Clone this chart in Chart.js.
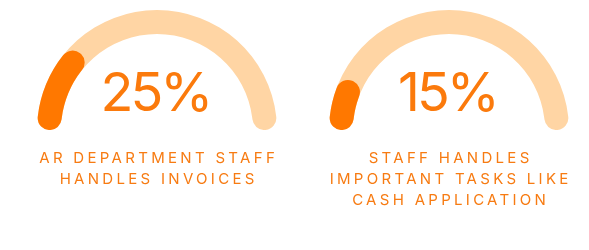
<!DOCTYPE html>
<html lang="en">
<head>
    <meta charset="UTF-8">
    <script src="https://cdn.jsdelivr.net/npm/chart.js"></script>
    <title>AR staff gauges</title>
    <style>
        body {
            margin: 0;
            width: 589px;
            height: 250px;
            background: #fff;
            font-family: Inter, Arial, sans-serif;
            position: relative;
            overflow: hidden;
        }
        .gauge {
            position: absolute;
            top: 0;
            width: 240px;
            height: 250px;
        }
        .gauge canvas {
            position: absolute;
            left: 0;
            top: 10px;
        }
        .value {
            position: absolute;
            left: -30px;
            width: 300px;
            top: 65px;
            text-align: center;
            font-size: 54px;
            line-height: 54px;
            letter-spacing: -3px;
            padding-right: 3px;
            box-sizing: border-box;
            color: #fb7a0c;
        }
        .label {
            position: absolute;
            left: -40px;
            width: 320px;
            top: 147px;
            text-align: center;
            font-size: 15px;
            line-height: 21px;
            letter-spacing: 3.3px;
            padding-left: 3.3px;
            box-sizing: border-box;
            color: #f77b12;
        }
    </style>
</head>

<body>
    <div class="gauge" id="g0" style="left:37px">
        <canvas id="bg0" width="240" height="120"></canvas>
        <canvas id="fg0" width="240" height="120"></canvas>
        <div class="value" id="v0"></div>
        <div class="label" id="l0"></div>
    </div>
    <div class="gauge" id="g1" style="left:329px">
        <canvas id="bg1" width="240" height="120"></canvas>
        <canvas id="fg1" width="240" height="120"></canvas>
        <div class="value" id="v1"></div>
        <div class="label" id="l1"></div>
    </div>

    <script>
        // percentages shown in each gauge
        const gaugeValues = [25, 15];
        const gaugeMax = 100;
        const gaugeLabels = [
            ['AR DEPARTMENT STAFF', 'HANDLES INVOICES'],
            ['STAFF HANDLES', 'IMPORTANT TASKS LIKE', 'CASH APPLICATION']
        ];

        const darkOrange = '#ff7800';
        const lightOrange = '#ffd5a4';

        function gaugeOptions() {
            return {
                responsive: false,
                animation: false,
                rotation: -90,
                circumference: 180,
                cutout: '80%',
                layout: { padding: 0 },
                plugins: {
                    legend: { display: false },
                    tooltip: { enabled: false }
                },
                events: []
            };
        }

        gaugeValues.forEach((val, i) => {
            // full track behind
            new Chart(document.getElementById('bg' + i), {
                type: 'doughnut',
                data: {
                    datasets: [{
                        data: [gaugeMax],
                        backgroundColor: [lightOrange],
                        borderWidth: 0,
                        borderRadius: 12,
                        hoverOffset: 0
                    }]
                },
                options: gaugeOptions()
            });

            // value arc on top
            new Chart(document.getElementById('fg' + i), {
                type: 'doughnut',
                data: {
                    datasets: [{
                        data: [val, gaugeMax - val],
                        backgroundColor: [darkOrange, 'rgba(0,0,0,0)'],
                        borderWidth: 0,
                        borderRadius: 12,
                        hoverOffset: 0
                    }]
                },
                options: gaugeOptions()
            });

            document.getElementById('v' + i).textContent = val + '%';
            document.getElementById('l' + i).innerHTML = gaugeLabels[i].join('<br>');
        });
    </script>
</body>

</html>
